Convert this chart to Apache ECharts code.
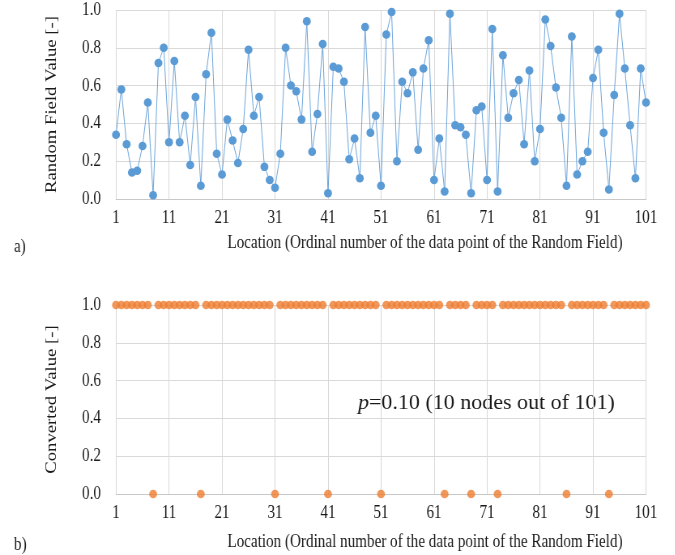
<!DOCTYPE html>
<html>
<head>
<meta charset="utf-8">
<script src="https://cdn.jsdelivr.net/npm/echarts@6/dist/echarts.min.js"></script>
<style>
  html, body { margin: 0; padding: 0; background: #fff; overflow: hidden; }
  #wrap { width: 675px; height: 555px; overflow: hidden; }
  #chart { height: 555px; transform-origin: 0 0; }
</style>
</head>
<body>
<div id="wrap"><div id="chart"></div></div>
<script>
// Locations 1..101 (ordinal number of each data point)
const locations = [];
for (let i = 1; i <= 101; i++) locations.push(String(i));

// Random field values at each location
const randomField = [
  0.34, 0.58, 0.29, 0.14, 0.15, 0.28, 0.51, 0.02, 0.72, 0.80,
  0.30, 0.73, 0.30, 0.44, 0.18, 0.54, 0.07, 0.66, 0.88, 0.24,
  0.13, 0.42, 0.31, 0.19, 0.37, 0.79, 0.44, 0.54, 0.17, 0.10,
  0.06, 0.24, 0.80, 0.60, 0.57, 0.42, 0.94, 0.25, 0.45, 0.82,
  0.03, 0.70, 0.69, 0.62, 0.21, 0.32, 0.11, 0.91, 0.35, 0.44,
  0.07, 0.87, 0.99, 0.20, 0.62, 0.56, 0.67, 0.26, 0.69, 0.84,
  0.10, 0.32, 0.04, 0.98, 0.39, 0.38, 0.34, 0.03, 0.47, 0.49,
  0.10, 0.90, 0.04, 0.76, 0.43, 0.56, 0.63, 0.29, 0.68, 0.20,
  0.37, 0.95, 0.81, 0.59, 0.43, 0.07, 0.86, 0.13, 0.20, 0.25,
  0.64, 0.79, 0.35, 0.05, 0.55, 0.98, 0.69, 0.39, 0.11, 0.69,
  0.51
];

// Converted (binary) values: 0 for the 10 selected nodes, 1 elsewhere
const converted = [
  1, 1, 1, 1, 1, 1, 1, 0, 1, 1,
  1, 1, 1, 1, 1, 1, 0, 1, 1, 1,
  1, 1, 1, 1, 1, 1, 1, 1, 1, 1,
  0, 1, 1, 1, 1, 1, 1, 1, 1, 1,
  0, 1, 1, 1, 1, 1, 1, 1, 1, 1,
  0, 1, 1, 1, 1, 1, 1, 1, 1, 1,
  1, 1, 0, 1, 1, 1, 1, 0, 1, 1,
  1, 1, 0, 1, 1, 1, 1, 1, 1, 1,
  1, 1, 1, 1, 1, 0, 1, 1, 1, 1,
  1, 1, 1, 0, 1, 1, 1, 1, 1, 1,
  1
];

const yTicks = ['0.0', '0.2', '0.4', '0.6', '0.8', '1.0'];
const xAxisTitle = 'Location (Ordinal number of the data point of the Random Field)';

// The figure is laid out on a wider canvas and squeezed horizontally,
// giving the tall, narrow lettering of the original figure.
const S = 0.81;
const W = Math.round(675 / S);
const px = v => v / S;

const FONT = '"Liberation Serif", "Times New Roman", serif';
const FS = 18.7;
const TXT = '#1a1a1a';
const GRID = '#d9d9d9';

const el = document.getElementById('chart');
el.style.width = W + 'px';
el.style.transform = 'scaleX(' + S + ')';

function xAxisFor(gridIndex) {
  return {
    type: 'category',
    gridIndex: gridIndex,
    data: locations,
    boundaryGap: false,
    axisLine: { lineStyle: { color: '#c8c8c8', width: 1 } },
    axisTick: { show: false },
    axisLabel: { interval: 9, color: TXT, fontFamily: FONT, fontSize: FS, margin: 10 },
    splitLine: { show: true, interval: 9, lineStyle: { color: GRID, width: 1 } }
  };
}

function yAxisFor(gridIndex, title) {
  return {
    type: 'value',
    gridIndex: gridIndex,
    min: 0,
    max: 1,
    interval: 0.2,
    axisLine: { show: false },
    axisTick: { show: false },
    axisLabel: {
      color: TXT, fontFamily: FONT, fontSize: FS, margin: px(15),
      formatter: v => yTicks[Math.round(v / 0.2)]
    },
    splitLine: { lineStyle: { color: GRID, width: 1 } },
    name: title,
    nameLocation: 'middle',
    nameGap: px(56),
    nameTextStyle: { color: TXT, fontFamily: FONT, fontSize: FS }
  };
}

function textAt(x, y, content, size, extra, unsqueezed) {
  return {
    type: 'text',
    x: px(x),
    y: y,
    scaleX: unsqueezed ? 1 / S : 1,
    style: Object.assign({
      text: content,
      font: size + 'px ' + FONT,
      fill: TXT,
      textAlign: 'left',
      textVerticalAlign: 'middle'
    }, extra || {})
  };
}

const chart = echarts.init(el, null, { renderer: 'canvas', width: W, height: 555 });

chart.setOption({
  backgroundColor: '#ffffff',
  animation: false,
  grid: [
    { left: px(116), width: px(530), top: 10, height: 189 },
    { left: px(116), width: px(530), top: 305, height: 189 }
  ],
  xAxis: [xAxisFor(0), xAxisFor(1)],
  yAxis: [yAxisFor(0, 'Random Field Value [-]'), yAxisFor(1, 'Converted Value [-]')],
  series: [
    {
      type: 'line',
      xAxisIndex: 0,
      yAxisIndex: 0,
      data: randomField,
      symbol: 'circle',
      symbolSize: [9.8, 8.5],
      showAllSymbol: true,
      itemStyle: { color: '#5b9bd5' },
      lineStyle: { color: '#6fa6dc', width: 1 }
    },
    {
      type: 'scatter',
      xAxisIndex: 1,
      yAxisIndex: 1,
      data: converted,
      symbol: 'circle',
      symbolSize: [9.8, 8.5],
      itemStyle: { color: '#ed7d31' }
    }
  ],
  graphic: [
    textAt(425, 243, xAxisTitle, FS, { textAlign: 'center' }),
    textAt(425, 542, xAxisTitle, FS, { textAlign: 'center' }),
    textAt(14, 247, 'a)', FS),
    textAt(14, 545, 'b)', FS),
    textAt(358, 403, '{i|p}=0.10 (10 nodes out of 101)', 22, {
      rich: { i: { fontStyle: 'italic', fontFamily: FONT, fontSize: 22, color: TXT } }
    }, true)
  ]
});
</script>
</body>
</html>
